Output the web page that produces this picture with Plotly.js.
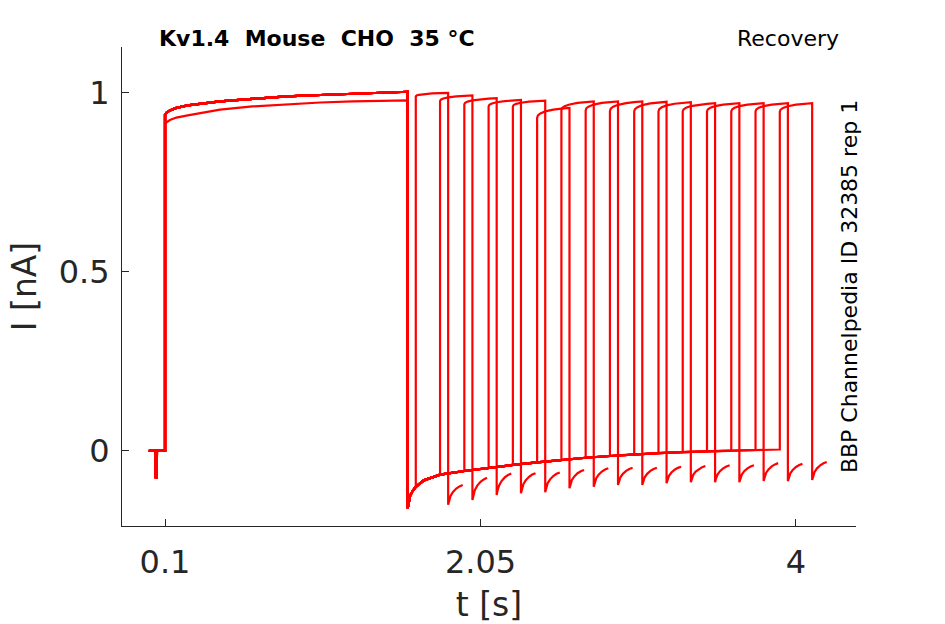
<!DOCTYPE html>
<html>
<head>
<meta charset="utf-8">
<script src="https://cdn.plot.ly/plotly-3.0.1.min.js"></script>
<style>
  html, body { margin: 0; padding: 0; background: #fff; }
  #chart { width: 945px; height: 624px; }
</style>
</head>
<body>
<div id="chart"></div>
<script>
// ---- values ----
// holding segment + capacitive spike
var holdT = [0, 0.042, 0.043, 0.046, 0.049, 0.05, 0.1]
var holdI = [0, 0, -0.073, -0.073, -0.073, 0, 0]

// conditioning pulse (two families of sweeps)
var preT     = [0.1, 0.11, 0.13, 0.17, 0.24, 0.34, 0.44, 0.64, 0.85, 1.06, 1.26, 1.45, 1.6]
var preUpper = [0.94, 0.945, 0.951, 0.958, 0.965, 0.971, 0.976, 0.983, 0.99, 0.994, 0.998, 1.001, 1.003]
var preLower = [0.912, 0.918, 0.924, 0.931, 0.937, 0.946, 0.953, 0.962, 0.968, 0.973, 0.976, 0.978, 0.979]
var lowerSweeps = [5]

// tail current after the conditioning pulse
var tailT = [1.6, 1.602, 1.607, 1.615, 1.63, 1.65, 1.70, 1.80, 1.95, 2.10, 2.25, 2.40, 2.55, 2.70, 2.85, 3.00, 3.15, 3.30, 3.45, 3.60, 3.75, 3.90]
var tailI = [-0.16, -0.155, -0.14, -0.125, -0.112, -0.10, -0.082, -0.066, -0.056, -0.047, -0.039, -0.032, -0.025, -0.019, -0.014, -0.009, -0.006, -0.003, -0.001, 0.001, 0.003, 0.004]

// test pulses: start time, current at start and end of the 0.2 s pulse
var testStart = [1.65, 1.80, 1.95, 2.10, 2.25, 2.40, 2.55, 2.70, 2.85, 3.00, 3.15, 3.30, 3.45, 3.60, 3.75, 3.90]
var testTopA  = [0.99, 0.977, 0.968, 0.962, 0.962, 0.93, 0.952, 0.951, 0.949, 0.948, 0.948, 0.948, 0.948, 0.948, 0.948, 0.947]
var testTopB  = [1.0, 0.993, 0.985, 0.98, 0.978, 0.958, 0.976, 0.976, 0.976, 0.975, 0.974, 0.971, 0.971, 0.971, 0.971, 0.971]
var topDt = [0, 0.005, 0.02, 0.05, 0.1, 0.15, 0.2]
var topF  = [0, 0.25, 0.45, 0.65, 0.83, 0.93, 1.0]

// tail after each test pulse
var hookLow  = [-0.15, -0.137, -0.123, -0.118, -0.115, -0.104, -0.1, -0.095, -0.095, -0.09, -0.087, -0.087, -0.087, -0.084, -0.084, -0.081]
var hookHigh = [-0.095, -0.075, -0.063, -0.062, -0.06, -0.053, -0.048, -0.047, -0.047, -0.044, -0.042, -0.04, -0.04, -0.034, -0.036, -0.031]
var hookDt = [0, 0.005, 0.015, 0.03, 0.05, 0.07, 0.09]
var hookF  = [0, 0.2, 0.45, 0.65, 0.82, 0.93, 1.0]

var xTicks = [0.1, 2.05, 4]
var yTicks = [0, 0.5, 1]

var FONT = 'DejaVu Sans, sans-serif'
var INK = '#262626'

// ---- build one trace per sweep ----
var data = []
for (var k = 0; k < testStart.length; k++) {
    var x = holdT.slice()
    var y = holdI.slice()
    var pre = (lowerSweeps.indexOf(k) >= 0) ? preLower : preUpper
    for (var i = 0; i < preT.length; i++) { x.push(preT[i]); y.push(pre[i]) }
    for (var i = 0; i < tailT.length; i++) {
        if (tailT[i] <= testStart[k] + 1e-9) { x.push(tailT[i]); y.push(tailI[i]) }
    }
    for (var i = 0; i < topDt.length; i++) {
        x.push(testStart[k] + topDt[i])
        y.push(testTopA[k] + (testTopB[k] - testTopA[k]) * topF[i])
    }
    var tEnd = testStart[k] + 0.2
    for (var i = 0; i < hookDt.length; i++) {
        x.push(tEnd + hookDt[i])
        y.push(hookLow[k] + (hookHigh[k] - hookLow[k]) * hookF[i])
    }
    data.push({
        type: 'scatter', mode: 'lines',
        x: x, y: y,
        line: {color: '#ff0000', width: 2.2},
        hoverinfo: 'skip',
    })
}

var layout = {
    width: 945,
    height: 624,
    showlegend: false,
    paper_bgcolor: '#ffffff',
    plot_bgcolor: '#ffffff',
    margin: {l: 122, r: 89, t: 47, b: 98},
    xaxis: {
        range: [-0.166, 4.371],
        tickvals: xTicks,
        ticktext: ['0.1', '2.05', '4'],
        ticks: 'inside', ticklen: 7, tickcolor: INK, tickwidth: 1,
        showline: true, linecolor: INK, linewidth: 1,
        showgrid: false, zeroline: false,
        ticklabelstandoff: 8,
        tickfont: {family: FONT, size: 32, color: INK},
        title: {text: 't [s]', font: {family: FONT, size: 33, color: INK}, standoff: 12},
        fixedrange: true,
    },
    yaxis: {
        range: [-0.2095, 1.128],
        tickvals: yTicks,
        ticktext: ['0', '0.5', '1'],
        ticks: 'inside', ticklen: 7, tickcolor: INK, tickwidth: 1,
        showline: true, linecolor: INK, linewidth: 1,
        showgrid: false, zeroline: false,
        ticklabelstandoff: 5,
        tickfont: {family: FONT, size: 32, color: INK},
        title: {text: 'I [nA]', font: {family: FONT, size: 33, color: INK}, standoff: 12},
        fixedrange: true,
    },
    annotations: [
        {
            text: '<b>Kv1.4\u00A0\u00A0Mouse\u00A0\u00A0CHO\u00A0\u00A035\u00A0°C</b>',
            xref: 'paper', yref: 'paper', x: 0.266, y: 1.017,
            xanchor: 'center', yanchor: 'middle', showarrow: false,
            font: {family: FONT, size: 22, color: '#000'},
        },
        {
            text: 'Recovery',
            xref: 'paper', yref: 'paper', x: 0.979, y: 1.017,
            xanchor: 'right', yanchor: 'middle', showarrow: false,
            font: {family: FONT, size: 22, color: '#000'},
        },
        {
            text: 'BBP Channelpedia ID 32385 rep 1',
            xref: 'paper', yref: 'paper', x: 0.992, y: 0.499,
            xanchor: 'center', yanchor: 'middle', showarrow: false,
            textangle: -90,
            font: {family: FONT, size: 22, color: '#000'},
        },
    ],
}

Plotly.newPlot('chart', data, layout, {displayModeBar: false, staticPlot: true})
</script>
</body>
</html>
